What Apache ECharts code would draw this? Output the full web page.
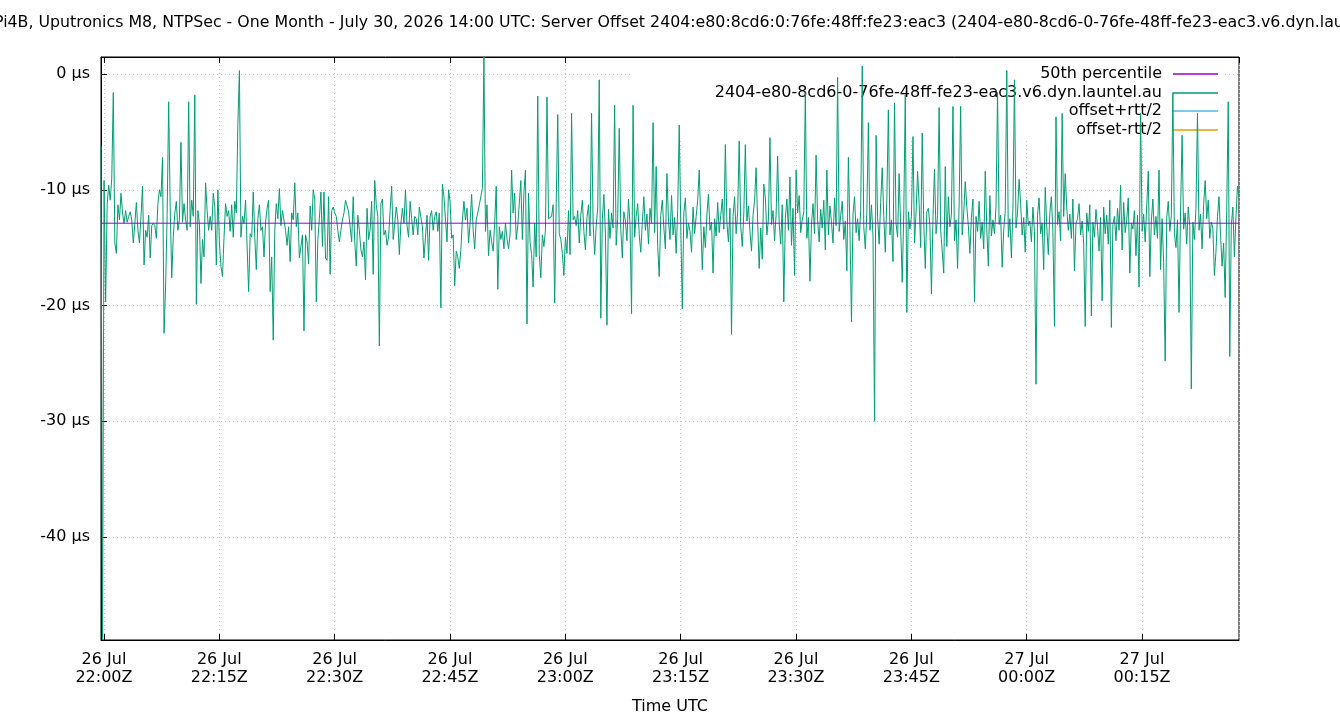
<!DOCTYPE html>
<html>
<head>
<meta charset="utf-8">
<script src="https://cdn.jsdelivr.net/npm/echarts@6/dist/echarts.min.js"></script>
<style>
html, body { margin: 0; padding: 0; background: #fff; }
#chart { width: 1340px; height: 720px; }
</style>
</head>
<body>
<div id="chart"></div>
<script>
// time range of the plot (UTC), one sample every stepSec seconds
var startTime = Date.UTC(2026, 6, 26, 21, 59, 37);
var endTime = Date.UTC(2026, 6, 27, 0, 27, 37);
var stepSec = 12;

// server offset, microseconds
var offsetUs = [
  -6.2, -48.9, -9.2, -19.7, -11.3, -9.6, -10.9, -9.0, -1.6,
  -14.6, -15.5, -11.3, -12.6, -10.3, -12.0, -12.9, -11.8, -12.8, -12.3, -11.9, -12.6, -14.6, -12.9, -11.1, -13.5,
  -14.6, -12.3, -9.7, -16.5, -13.5, -14.1, -12.2, -15.9, -13.1, -12.9, -13.1, -14.2, -11.2, -10.0, -10.6, -7.2,
  -22.4, -18.4, -12.2, -2.4,
  -11.5, -17.6, -14.1, -12.0, -11.0, -13.5, -12.6, -5.9,
  -12.8, -11.2, -12.6, -13.5, -2.4,
  -13.2, -10.9, -12.3, -1.8, -19.9,
  -11.8, -12.9, -18.1, -14.3, -15.8, -9.4, -11.8, -13.5, -12.3, -13.5, -10.3, -11.5, -16.5, -10.0, -14.6, -16.6,
  -17.5, -14.1, -11.2, -12.3, -11.8, -13.6, -11.3, -14.1, -11.0, -12.0, -4.3,
  0.3,
  -14.1, -12.3, -12.9, -10.9, -11.0, -18.8, -13.8, -14.1, -10.2, -14.1, -16.9, -12.5, -11.3, -13.5, -13.2, -15.8,
  -12.8, -11.6, -10.9, -18.8, -15.8,
  -23.0,
  -13.5, -11.2, -12.5, -9.9, -13.1, -11.8, -11.8, -13.5, -14.8, -13.2, -16.2, -12.0, -12.6, -9.4, -13.2, -12.0,
  -15.9, -15.8, -13.9,
  -22.2,
  -13.9, -14.5, -16.4, -11.4, -13.5, -10.0, -10.8,
  -19.7,
  -14.3, -12.5, -10.2, -14.9, -10.2, -15.9, -16.1, -10.6, -17.3, -11.8, -11.5, -12.0, -12.3,
  -13.5, -14.5, -13.5, -12.6, -12.0, -10.9, -10.8, -11.9, -13.2, -14.5, -10.6, -14.5, -16.6, -12.2, -13.5, -15.2,
  -15.8, -14.5, -17.8, -11.6, -14.3, -13.5, -11.0, -17.3, -9.2, -11.3, -12.3,
  -23.5,
  -11.2, -10.8, -13.9, -13.5, -14.8, -14.1, -11.8, -9.7, -14.3, -14.2, -11.5, -12.6, -15.6, -12.9, -11.6, -12.9,
  -10.0, -13.1, -14.1, -11.0, -12.5, -13.9, -12.3, -12.5, -13.9, -11.5, -11.6, -13.2, -15.9, -14.1, -12.2, -16.1,
  -12.3, -11.8, -13.5, -12.3, -11.9, -13.6, -12.0,
  -20.2,
  -9.5, -10.6, -10.5, -14.5, -10.0, -11.0, -14.2, -13.9, -18.3, -15.3, -15.8, -16.8, -15.2, -12.6, -11.0, -12.6,
  -11.6, -14.6, -12.9, -10.4, -13.5, -15.1, -12.6, -12.0, -11.3, -11.2, -9.9,
  1.47,
  -13.6, -11.3, -15.7, -13.5, -14.5, -15.3, -12.9, -9.7, -18.6, -13.2, -14.3, -13.6, -15.1, -12.9, -14.2, -15.1,
  -13.9, -8.3, -12.0, -10.3, -14.3, -13.1, -13.1, -9.2, -14.3, -10.3, -8.3,
  -21.6,
  -10.3, -14.5, -15.6, -18.4, -12.9, -15.8, -1.9, -15.6, -17.6, -13.9, -14.9, -13.5, -2.0, -12.5, -12.6, -12.3,
  -11.3, -19.8, -11.2, -3.5, -13.8, -14.3, -15.5, -17.4, -14.1, -15.5, -11.8, -15.6, -3.4, -12.6, -12.3,
  // 23:00Z onwards
  -13.1, -11.8, -14.6, -12.2, -10.9, -13.6, -15.2, -12.4, -11.3, -14.0,
  -3.4, -12.9, -15.6, -13.2, -11.5, -0.5, -21.1, -12.6, -10.4, -13.8, -21.7,
  -11.7, -14.2, -12.0, -13.3, -2.7, -14.8, -12.5, -4.7,
  -13.4, -15.9, -11.9, -12.7, -14.4, -10.8, -13.0, -20.7, -2.7,
  -14.1, -12.3, -11.2, -13.9, -15.4, -12.8, -10.6, -13.5, -12.1, -14.7, -11.6, -12.9, -4.2,
  -13.7, -8.0, -14.9, -17.5,
  -12.2, -10.9, -13.3, -15.1, -8.6, -12.6, -14.3, -10.5, -13.9, -12.4, -15.5, -11.7, -4.4, -13.1, -20.3,
  -12.0, -10.7, -14.2, -12.9, -13.6, -15.4,
  -11.5, -13.8, -12.3, -10.9, -8.3, -12.7, -16.9, -13.2, -15.0, -12.1, -10.4, -13.5, -12.8, -17.2,
  -12.5, -14.0, -11.1, -13.7, -12.2, -10.8, -13.4, -6.1, -12.9, -14.5, -11.6, -22.5,
  -12.3, -10.6, -13.8, -11.9, -5.8, -13.2, -14.9, -12.0, -6.1,
  -12.7, -11.4, -13.6, -15.3, -12.2, -10.9, -8.1, -12.8, -16.8, -13.3, -16.0, -9.5, -10.7, -13.9, -12.6, -5.5,
  -13.0, -11.8, -14.4, -12.1, -7.1, -12.9, -14.7, -11.3, -19.7,
  -12.5, -10.8, -13.5, -8.9, -14.8, -11.6, -17.4, -8.3, -12.0, -10.5, -13.7, -12.6, -11.9, -1.6,
  -14.2, -12.4, -17.9, -13.0, -11.2, -13.8, -7.0,
  -12.6, -14.5, -11.7, -13.3, -10.9, -15.2, -8.3, -13.9, -11.4, -12.8, -14.6, -10.7, -13.1, -0.3,
  -13.6, -12.2, -11.0, -14.3, -12.7, -17.0, -7.2, -13.4, -21.4,
  -12.1, -10.6, -13.7, -12.5, -14.4, -11.8, 0.7, -13.2, -15.1, -12.0, -4.2,
  -13.5, -11.3, -14.0, -30.0, -5.3,
  -12.4, -14.7, -11.1, -8.1, -12.2, -15.4, -10.8, -3.1, -13.9, -12.6, -16.2, -2.5,
  -12.9, -14.1, -8.6, -13.3, -18.0, -12.1, -1.8, -20.6, -11.9, -13.4, -12.3, -5.4,
  -14.6, -12.0, -8.4, -11.2, -15.0, -5.1, -12.8, -16.8, -11.9, -11.6, -13.1, -19.0,
  -12.4, -8.2, -13.8, -12.2, -2.9,
  -13.5, -15.3, -17.2, -8.0, -14.9, -10.6, -13.2, -12.1, -2.8, -14.4, -12.6, -16.8, -11.3, -2.8,
  -13.9, -12.0, -9.3, -11.5, -13.1, -15.5, -12.4, -10.8, -19.7,
  -12.3, -13.6, -11.0, -14.2, -12.8, -15.1, -8.4, -13.4, -16.6, -10.5, -14.0, -12.6, -13.8, -11.4, -1.6,
  -13.0, -12.2, -16.7, -13.5, -11.8, 0.3, -14.1, -12.5, -15.9, -11.6, -0.5,
  -13.3, -12.0, -9.1, -11.2, -13.9, -12.4, -15.4, -10.9, -13.1, -12.7, -14.5, -11.5, -13.6, -26.8,
  -12.2, -10.7, -13.8, -12.9, -16.9, -9.8, -13.2, -15.6, -12.0, -10.6, -13.7, -21.8, -3.7,
  -13.0, -11.9, -14.4, -3.4,
  -12.3, -8.6, -11.6, -13.5, -12.1, -14.2, -10.8, -17.0, -12.9, -12.5, -11.2, -13.9, -12.7, -14.6, -21.8,
  -12.0, -13.6, -11.3, -20.9, -12.8, -14.1, -11.7, -13.2, -15.3, -12.4, -19.6,
  -11.5, -13.8, -12.2, -14.7, -10.9, -21.9,
  -13.0, -12.3, -14.4, -11.6, -13.5, -9.6, -15.2, -11.1, -13.7, -12.6, -10.7, -17.2, -12.9, -13.4, -11.8, -15.7,
  -12.2, -18.4, -3.4,
  -13.6, -12.1, -14.5, -11.4, -8.4, -17.5, -12.7, -10.8, -13.9, -12.3, -14.2, -8.3, -16.9, -12.5, -16.3, -24.8,
  -12.4, -11.0, -13.6, -12.2, -1.6, -13.8, -15.0, -12.6, -20.6, -11.9, -5.3,
  -13.4, -12.0, -14.7, -11.5, -13.2, -27.2, -12.8, -14.3, -11.6, -3.4,
  -13.5, -12.1, -15.1, -11.3, -9.2, -12.5, -10.9, -14.2, -12.8, -13.3, -17.4, -15.4, -12.3, -10.6, -13.9, -16.6,
  -14.6, -19.3, -11.8, -2.4, -24.4, -13.1, -11.5, -15.8, -12.4, -9.7, -10.5
];

// 50th percentile of the offset, microseconds
var p50Us = -12.89;

var yMin = -48.9;
var yMax = 1.47;

var seriesNames = ['50th percentile', '2404-e80-8cd6-0-76fe-48ff-fe23-eac3.v6.dyn.launtel.au', 'offset+rtt/2', 'offset-rtt/2'];
var seriesColors = ['#9400d3', '#009e73', '#56b4e9', '#e69f00'];
var monthNames = ['Jan', 'Feb', 'Mar', 'Apr', 'May', 'Jun', 'Jul', 'Aug', 'Sep', 'Oct', 'Nov', 'Dec'];

var titleText = 'Pi4B, Uputronics M8, NTPSec - One Month - July 30, 2026 14:00 UTC: Server Offset 2404:e80:8cd6:0:76fe:48ff:fe23:eac3 (2404-e80-8cd6-0-76fe-48ff-fe23-eac3.v6.dyn.launtel.au)';

var fontName = 'DejaVu Sans';

function pad2(n) {
  return n < 10 ? '0' + n : '' + n;
}

function timeLabel(value) {
  var d = new Date(value);
  return d.getUTCDate() + ' ' + monthNames[d.getUTCMonth()] + '\n' + pad2(d.getUTCHours()) + ':' + pad2(d.getUTCMinutes()) + 'Z';
}

var offsetData = [];
for (var i = 0; i < offsetUs.length; i++) {
  offsetData.push([startTime + i * stepSec * 1000, offsetUs[i]]);
}
var p50Data = [[startTime, p50Us], [endTime, p50Us]];

var gridLine = { show: true, lineStyle: { color: '#c4c4c4', width: 1, type: [1, 3] } };
// ECharts picks 15 min steps when the rough step is a bit above 15 min
var tickGuess = 17 * 60 * 1000;

// one legend per row so every row is right aligned
var legends = [];
var legendRowTop = [66, 85, 103, 122];
for (var k = 0; k < seriesNames.length; k++) {
  legends.push({
    data: [{ name: seriesNames[k], icon: 'rect' }],
    orient: 'vertical',
    right: 122,
    top: legendRowTop[k],
    align: 'right',
    padding: 0,
    itemWidth: 45,
    itemHeight: 1.5,
    z: 1,
    selectedMode: false,
    textStyle: { color: '#000', fontFamily: fontName, fontSize: 16, padding: [0, 6, 0, 0] }
  });
}

var myChart = echarts.init(document.getElementById('chart'));
var option = {
  animation: false,
  useUTC: true,
  backgroundColor: '#fff',
  title: {
    text: titleText,
    left: -6,
    top: 15,
    padding: 0,
    textStyle: { color: '#000', fontFamily: fontName, fontSize: 15.8, fontWeight: 'normal' }
  },
  // key box, hides the grid lines behind the legend
  graphic: [{
    type: 'rect',
    z: 1,
    shape: { x: 630, y: 58, width: 592, height: 81 },
    style: { fill: '#fff' }
  }],
  legend: legends,
  grid: {
    left: 101, right: 101, top: 57, bottom: 79,
    show: true, borderColor: '#000', borderWidth: 1, backgroundColor: 'transparent'
  },
  xAxis: [{
    type: 'time',
    min: startTime,
    max: endTime,
    minInterval: tickGuess,
    maxInterval: tickGuess,
    name: 'Time UTC',
    nameLocation: 'middle',
    nameGap: 59,
    nameTextStyle: { color: '#000', fontFamily: fontName, fontSize: 16 },
    axisLine: { show: true, onZero: false, lineStyle: { color: '#000', width: 1 } },
    axisTick: { show: true, inside: true, length: 6, lineStyle: { color: '#000' } },
    axisLabel: {
      formatter: timeLabel,
      color: '#000', fontFamily: fontName, fontSize: 16, lineHeight: 18, margin: 11,
      showMinLabel: false, showMaxLabel: false
    },
    splitLine: gridLine
  }, {
    type: 'time',
    position: 'top',
    min: startTime,
    max: endTime,
    minInterval: tickGuess,
    maxInterval: tickGuess,
    axisLine: { show: true, onZero: false, lineStyle: { color: '#000', width: 1 } },
    axisTick: { show: true, inside: true, length: 6, lineStyle: { color: '#000' } },
    axisLabel: { show: false },
    splitLine: { show: false }
  }],
  yAxis: {
    type: 'value',
    min: yMin,
    max: yMax,
    splitNumber: 5,
    axisLine: { show: true, onZero: false, lineStyle: { color: '#000', width: 1 } },
    axisTick: { show: true, inside: true, length: 6, lineStyle: { color: '#000' } },
    axisLabel: {
      formatter: function (v) { return v + ' µs'; },
      color: '#000', fontFamily: fontName, fontSize: 16, margin: 11,
      showMinLabel: false, showMaxLabel: false
    },
    splitLine: gridLine
  },
  series: [{
    name: seriesNames[1],
    type: 'line',
    data: offsetData,
    showSymbol: false,
    symbol: 'none',
    sampling: null,
    color: seriesColors[1],
    lineStyle: { color: seriesColors[1], width: 1 },
    z: 2
  }, {
    name: seriesNames[0],
    type: 'line',
    data: p50Data,
    showSymbol: false,
    symbol: 'none',
    color: seriesColors[0],
    lineStyle: { color: seriesColors[0], width: 1 },
    z: 3
  }, {
    name: seriesNames[2],
    type: 'line',
    data: [],
    symbol: 'none',
    color: seriesColors[2],
    lineStyle: { color: seriesColors[2], width: 1 }
  }, {
    name: seriesNames[3],
    type: 'line',
    data: [],
    symbol: 'none',
    color: seriesColors[3],
    lineStyle: { color: seriesColors[3], width: 1 }
  }]
};
myChart.setOption(option);
</script>
</body>
</html>
